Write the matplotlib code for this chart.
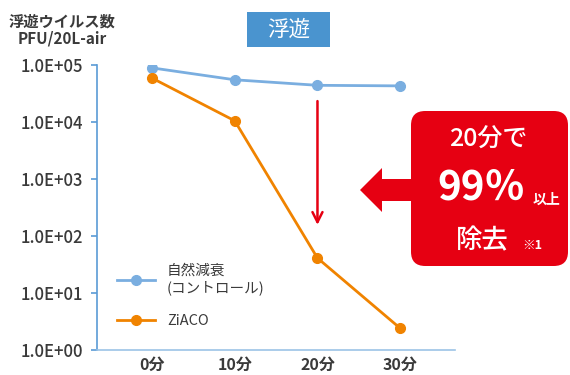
import numpy as np
import matplotlib
matplotlib.use("Agg")
from matplotlib import pyplot as plt
from matplotlib.patches import FancyBboxPatch, Polygon

plt.rcParams['font.family'] = ['Noto Sans CJK JP', 'DejaVu Sans']

# data
times = ["0分", "10分", "20分", "30分"]
control = [8.9e4, 5.5e4, 4.4e4, 4.3e4]
ziaco = [5.9e4, 1.05e4, 41, 2.4]
ytick_vals = [1, 10, 100, 1e3, 1e4, 1e5]
ytick_labels = ["1.0E+00", "1.0E+01", "1.0E+02", "1.0E+03", "1.0E+04", "1.0E+05"]

blue = "#7aaee0"
orange = "#f08300"
red = "#e60012"
txt = "#3a3a3a"

fig = plt.figure(figsize=(5.7, 3.75), dpi=100)
ax = fig.add_axes([0.170, 0.0667, 0.628, 0.76])

x = np.arange(len(times))
l1, = ax.plot(x, control, color=blue, lw=2, marker="o", ms=7, label="自然減衰\n(コントロール)")
l2, = ax.plot(x, ziaco, color=orange, lw=2, marker="o", ms=7, label="ZiACO")

ax.set_yscale("log")
ax.set_ylim(1, 1e5)
ax.set_xlim(-0.665, 3.66)
ax.set_yticks(ytick_vals)
ax.set_yticklabels(ytick_labels, fontsize=12, color=txt, fontweight="medium")
ax.minorticks_off()
ax.set_xticks(x)
ax.set_xticklabels(times, fontsize=11.5, color=txt, fontweight="bold")
ax.tick_params(axis="x", length=0, pad=5)
ax.tick_params(axis="y", length=4, color="#5a9bd5", width=1.2, pad=6)
for s in ["top", "right"]:
    ax.spines[s].set_visible(False)
ax.spines["left"].set_color("#5a9bd5")
ax.spines["left"].set_linewidth(1.2)
ax.spines["bottom"].set_color("#9cc3e6")
ax.spines["bottom"].set_linewidth(1.2)

leg = ax.legend(handles=[l1, l2], loc="lower left", bbox_to_anchor=(0.02, 0.03),
                frameon=False, fontsize=10.5, handlelength=2.6, labelspacing=1.3,
                labelcolor=txt)

# y axis title
fig.text(62 / 570, 0.965, "浮遊ウイルス数\nPFU/20L-air", ha="center", va="top",
         fontsize=11, fontweight="bold", color=txt, linespacing=1.1)

# title box
fig.patches.append(FancyBboxPatch((247 / 570, 1 - 47 / 375), 83 / 570, 35 / 375,
                                  boxstyle="square,pad=0", fc="#4a94cf", ec="none",
                                  transform=fig.transFigure, zorder=0))
fig.text(289 / 570, 1 - 30 / 375, "浮遊", ha="center", va="center", fontsize=15.5,
         color="white")

# red down arrow at 20分
ax.annotate("", xy=(2, 140), xytext=(2, 2.6e4),
            arrowprops=dict(arrowstyle="->", color=red, lw=1.8, mutation_scale=18))

# red box with left arrow
W, H = 570, 375
def fx(px):
    return px / W
def fy(py):
    return 1 - py / H

box = FancyBboxPatch((fx(411), fy(266)), fx(568) - fx(411), fy(111) - fy(266),
                     boxstyle="round,pad=0,rounding_size=0.025", fc=red, ec="none",
                     transform=fig.transFigure, mutation_aspect=1.52)
fig.patches.append(box)
arrow_pts = [(360, 190), (382, 168), (382, 179), (415, 179), (415, 201), (382, 201), (382, 212)]
fig.patches.append(Polygon([(fx(a), fy(b)) for a, b in arrow_pts], closed=True, fc=red,
                           ec="none", transform=fig.transFigure))

fig.text(fx(488), fy(140), "20分で", ha="center", va="center", fontsize=18,
         color="white", fontweight="medium")
fig.text(fx(481), fy(188), "99％", ha="center", va="center", fontsize=29,
         color="white", fontweight="bold")
fig.text(fx(546), fy(200), "以上", ha="center", va="center", fontsize=10,
         color="white", fontweight="bold")
fig.text(fx(482), fy(241), "除去", ha="center", va="center", fontsize=19,
         color="white", fontweight="medium")
fig.text(fx(532), fy(245), "※1", ha="center", va="center", fontsize=9,
         color="white", fontweight="bold")

fig.savefig("out.png", dpi=100)
